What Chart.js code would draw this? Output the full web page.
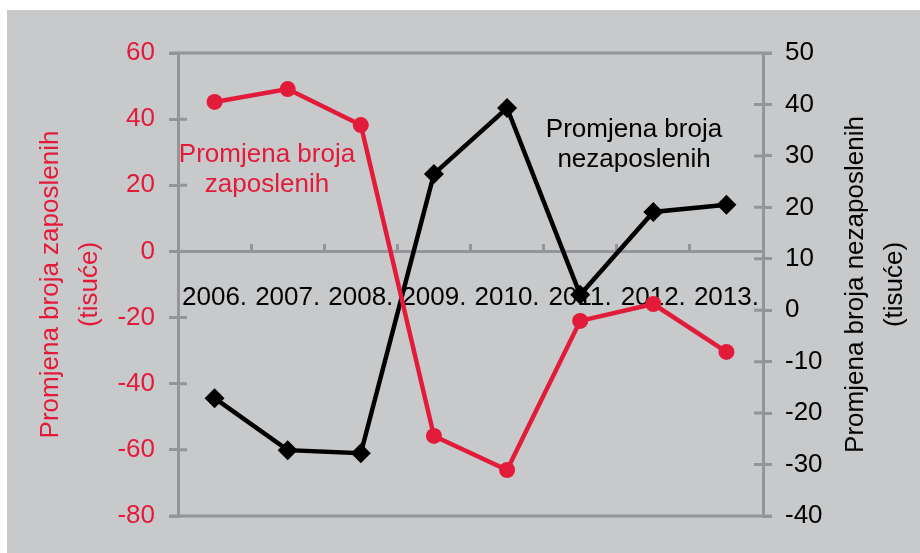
<!DOCTYPE html>
<html>
<head>
<meta charset="utf-8">
<script src="https://cdn.jsdelivr.net/npm/chart.js@4/dist/chart.umd.min.js"></script>
<style>
    body { margin: 0; background: #fff; }
    #wrap { position: absolute; left: 7px; top: 10px; width: 913px; height: 543px; background: #c8c9cb; }
</style>
</head>
<body>
<div id="wrap"><canvas id="chart" width="913" height="543"></canvas></div>
<script>
const categories = ['2006.', '2007.', '2008.', '2009.', '2010.', '2011.', '2012.', '2013.'];
// promjena broja zaposlenih (tisuće), lijeva os
const zaposleni = [45.2, 49.1, 38.2, -55.8, -66.1, -21.0, -15.9, -30.4];
// promjena broja nezaposlenih (tisuće), desna os
const nezaposleni = [-17.1, -27.2, -27.8, 26.5, 39.3, 3.0, 19.1, 20.5];

const leftTicks = { min: -80, max: 60, step: 20 };
const rightTicks = { min: -40, max: 50, step: 10 };

const RED = 'rgb(227, 27, 59)';
const BLACK = '#000';
const AXIS = '#939598';
const FONT = '"Liberation Sans", Arial, sans-serif';

// crtanje unutarnjih crtica, gornje/donje linije i naslova
const decor = {
    id: 'decor',
    beforeDatasetsDraw(chart) {
        const ctx = chart.ctx;
        const a = chart.chartArea;
        ctx.save();
        ctx.strokeStyle = AXIS;
        ctx.lineWidth = 3;
        ctx.beginPath();
        chart.scales.y.ticks.forEach(t => {
            const py = chart.scales.y.getPixelForValue(t.value);
            ctx.moveTo(a.left, py);
            ctx.lineTo(a.left + 9, py);
        });
        chart.scales.y1.ticks.forEach(t => {
            const py = chart.scales.y1.getPixelForValue(t.value);
            ctx.moveTo(a.right - 9, py);
            ctx.lineTo(a.right, py);
        });
        ctx.moveTo(a.left - 9, a.top);
        ctx.lineTo(a.right + 9, a.top);
        ctx.moveTo(a.left - 9, a.bottom);
        ctx.lineTo(a.right + 9, a.bottom);
        ctx.stroke();
        ctx.restore();
    },
    afterDraw(chart) {
        const ctx = chart.ctx;
        const a = chart.chartArea;
        const cy = (a.top + a.bottom) / 2;
        ctx.save();
        ctx.font = '26px ' + FONT;
        ctx.textAlign = 'center';
        ctx.textBaseline = 'alphabetic';

        const vtext = (lines, xs, color) => {
            ctx.fillStyle = color;
            lines.forEach((s, i) => {
                ctx.save();
                ctx.translate(xs[i], cy);
                ctx.rotate(-Math.PI / 2);
                ctx.fillText(s, 0, 0);
                ctx.restore();
            });
        };
        vtext(['Promjena broja zaposlenih', '(tisuće)'], [51, 90], RED);
        vtext(['Promjena broja nezaposlenih', '(tisuće)'], [856, 895], BLACK);

        ctx.fillStyle = RED;
        ctx.fillText('Promjena broja', 260, 152);
        ctx.fillText('zaposlenih', 260, 182);
        ctx.fillStyle = BLACK;
        ctx.fillText('Promjena broja', 627, 127);
        ctx.fillText('nezaposlenih', 627, 157);
        ctx.restore();
    }
};

new Chart(document.getElementById('chart'), {
    type: 'line',
    data: {
        labels: categories,
        datasets: [{
            label: 'Promjena broja zaposlenih',
            data: zaposleni,
            yAxisID: 'y',
            borderColor: RED,
            backgroundColor: RED,
            borderWidth: 4.5,
            pointStyle: 'circle',
            pointRadius: 8,
            pointBorderWidth: 0,
            tension: 0
        }, {
            label: 'Promjena broja nezaposlenih',
            data: nezaposleni,
            yAxisID: 'y1',
            borderColor: BLACK,
            backgroundColor: BLACK,
            borderWidth: 4.5,
            pointStyle: 'rectRot',
            pointRadius: 10,
            pointBorderWidth: 0,
            tension: 0
        }]
    },
    options: {
        responsive: false,
        animation: false,
        layout: { padding: { top: 43, bottom: 37, left: 0, right: 0 } },
        plugins: {
            legend: { display: false },
            tooltip: { enabled: false }
        },
        scales: {
            x: {
                type: 'category',
                position: { y: 0 },
                offset: true,
                grid: {
                    offset: true,
                    drawOnChartArea: false,
                    tickLength: -9,
                    color: AXIS,
                    lineWidth: 3
                },
                border: { color: AXIS, width: 3 },
                ticks: {
                    color: BLACK,
                    font: { family: FONT, size: 26 },
                    padding: 40,
                    maxRotation: 0,
                    autoSkip: false
                }
            },
            y: {
                position: 'left',
                min: leftTicks.min,
                max: leftTicks.max,
                ticks: {
                    stepSize: leftTicks.step,
                    color: RED,
                    font: { family: FONT, size: 26 },
                    padding: 14
                },
                grid: {
                    drawOnChartArea: false,
                    tickLength: 9,
                    color: AXIS,
                    lineWidth: 3
                },
                border: { color: AXIS, width: 3 },
                afterFit(s) { s.width = 171; }
            },
            y1: {
                position: 'right',
                min: rightTicks.min,
                max: rightTicks.max,
                ticks: {
                    stepSize: rightTicks.step,
                    color: BLACK,
                    font: { family: FONT, size: 26 },
                    padding: 13
                },
                grid: {
                    drawOnChartArea: false,
                    tickLength: 9,
                    color: AXIS,
                    lineWidth: 3
                },
                border: { color: AXIS, width: 3 },
                afterFit(s) { s.width = 157; }
            }
        }
    },
    plugins: [decor]
});
</script>
</body>
</html>
